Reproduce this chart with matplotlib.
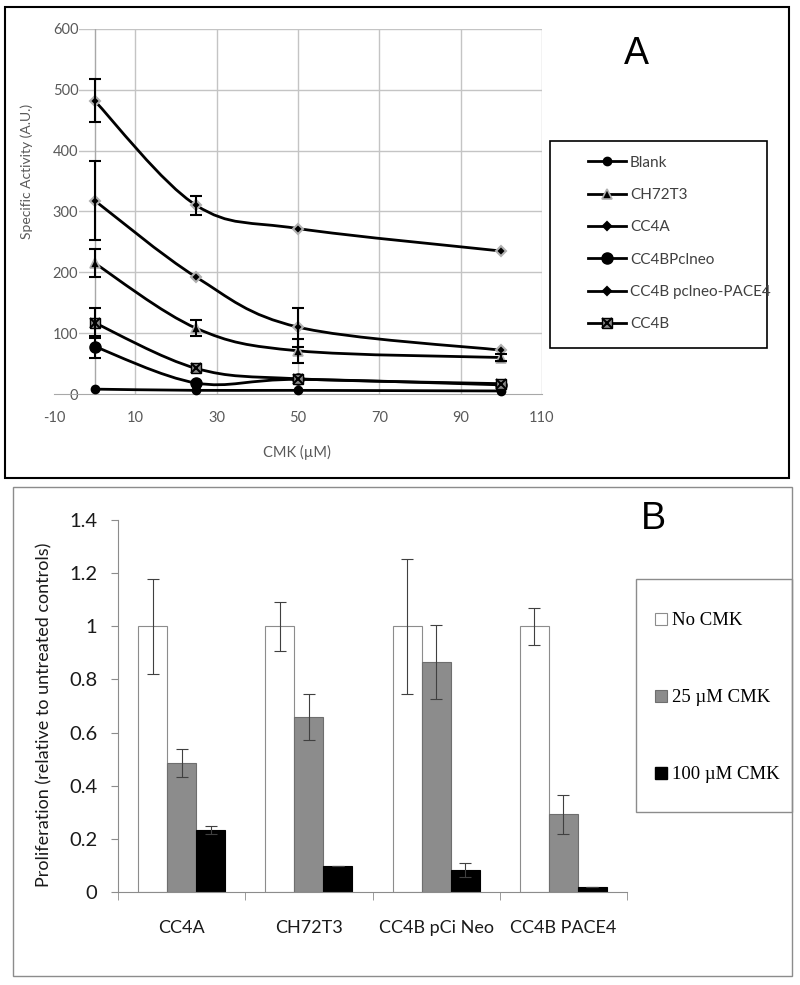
import numpy as np
import matplotlib.pyplot as plt
from matplotlib.path import Path
from matplotlib.patches import PathPatch, Rectangle, Patch
from matplotlib.lines import Line2D
from matplotlib.legend_handler import HandlerTuple

plt.rcParams['axes.unicode_minus'] = False

# ---- panel A data ----
cmk = [0, 25, 50, 100]
blank = [8, 6, 6, 5]
ch72t3 = [215, 108, 71, 60]
cc4a = [318, 192, 110, 72]
cc4b_pcineo = [78, 18, 24, 15]
cc4b_pace4 = [482, 310, 272, 235]
cc4b = [117, 42, 25, 17]

err_blank = [0, 0, 0, 0]
err_ch72t3 = [23, 13, 20, 5]
err_cc4a = [65, 0, 32, 0]
err_cc4b_pcineo = [18, 0, 0, 0]
err_cc4b_pace4 = [35, 16, 0, 0]
err_cc4b = [25, 0, 0, 0]

# ---- panel B data ----
lines_b = ['CC4A', 'CH72T3', 'CC4B pCi Neo', 'CC4B PACE4']
no_cmk = [1.0, 1.0, 1.0, 1.0]
cmk25 = [0.487, 0.66, 0.866, 0.293]
cmk100 = [0.233, 0.098, 0.082, 0.02]
err_no = [0.178, 0.092, 0.254, 0.07]
err_25 = [0.053, 0.087, 0.139, 0.073]
err_100 = [0.015, 0, 0.026, 0]
yticks_b = [0, 0.2, 0.4, 0.6, 0.8, 1.0, 1.2, 1.4]
ylabels_b = ['0', '0.2', '0.4', '0.6', '0.8', '1', '1.2', '1.4']


def smooth_path(x, y):  # excel style smoothed line (bezier)
    p = np.column_stack([x, y]).astype(float)
    n = len(p)
    verts = [p[0]]
    codes = [Path.MOVETO]
    for i in range(n - 1):
        p0 = p[max(i - 1, 0)]
        p1 = p[i]
        p2 = p[i + 1]
        p3 = p[min(i + 2, n - 1)]
        verts += [p1 + (p2 - p0) / 6, p2 - (p3 - p1) / 6, p2]
        codes += [Path.CURVE4] * 3
    return Path(verts, codes)


W, H = 800, 985
fig = plt.figure(figsize=(8, 9.85), dpi=100)
grey = '#595959'

# ================= panel A =================
ax = fig.add_axes([54 / W, 1 - 394 / H, 488 / W, 365 / H])
ax.set_xlim(-10, 110)
ax.set_ylim(0, 600)
for s in ['top', 'right', 'left']:
    ax.spines[s].set_visible(False)
ax.spines['bottom'].set_color('#a8a8a8')
ax.set_xticks(np.arange(-10, 111, 20))
ax.set_yticks(np.arange(0, 601, 100))
for v in np.arange(10, 111, 20):
    ax.axvline(v, color='#c4c4c4', lw=1, zorder=0)
for v in np.arange(100, 601, 100):
    ax.axhline(v, color='#c4c4c4', lw=1, zorder=0)
ax.axvline(0, color='#a8a8a8', lw=1, zorder=1)
ax.tick_params(axis='x', length=0, pad=12, labelsize=10.5, labelcolor=grey)
ax.tick_params(axis='y', length=0, pad=-17.5, labelsize=10.5, labelcolor=grey)
for lab in ax.get_xticklabels() + ax.get_yticklabels():
    lab.set_family('Lato')
for lab in ax.get_yticklabels():
    lab.set_bbox(dict(facecolor='white', edgecolor='none', pad=0.5))
    lab.set_zorder(2)
ax.set_xlabel('CMK (µM)', family='Lato', fontsize=10.5, color=grey)
ax.xaxis.set_label_coords(0.498, -0.14)
ax.set_ylabel('Specific Activity (A.U.)', family='Lato', fontsize=10, color=grey)
ax.yaxis.set_label_coords(-0.043, 0.611)

series = [
    ('Blank', blank, err_blank, dict(marker='o', ms=6, mfc='black', mec='black')),
    ('CH72T3', ch72t3, err_ch72t3, dict(marker='^', ms=6.5, mfc='black', mec='#b0b0b0', mew=1.2)),
    ('CC4A', cc4a, err_cc4a, dict(marker='D', ms=5.5, mfc='black', mec='#b0b0b0', mew=1.5)),
    ('CC4BPclneo', cc4b_pcineo, err_cc4b_pcineo, dict(marker='o', ms=8, mfc='black', mec='black')),
    ('CC4B pclneo-PACE4', cc4b_pace4, err_cc4b_pace4, dict(marker='D', ms=5.5, mfc='black', mec='#b0b0b0', mew=1.5)),
]
handles = []
for name, vals, err, mk in series:
    ax.add_patch(PathPatch(smooth_path(cmk, vals), fc='none', ec='black', lw=2, zorder=3))
    ax.plot(cmk, vals, ls='none', zorder=4, clip_on=False, **mk)
    e = np.array(err)
    m = e > 0
    if m.any():
        ax.errorbar(np.array(cmk)[m], np.array(vals)[m], yerr=e[m], fmt='none',
                    ecolor='black', elinewidth=1.5, capsize=4, capthick=1.5, zorder=5)
    h_mk = dict(mk)
    if h_mk['marker'] == 'D':
        h_mk['ms'] = 4
        h_mk['mec'] = 'black'
    handles.append(Line2D([], [], color='black', lw=2, **h_mk))

# CC4B: square with cross
ax.add_patch(PathPatch(smooth_path(cmk, cc4b), fc='none', ec='black', lw=2, zorder=3))
ax.plot(cmk, cc4b, ls='none', marker='s', ms=7, mfc='#8a8a8a', mec='black', zorder=4, clip_on=False)
ax.plot(cmk, cc4b, ls='none', marker='x', ms=7, mec='black', mew=1.5, zorder=4, clip_on=False)
ax.errorbar(cmk[:1], cc4b[:1], yerr=err_cc4b[:1], fmt='none', ecolor='black',
            elinewidth=1.5, capsize=4, capthick=1.5, zorder=5)
h1 = Line2D([], [], color='black', lw=2, marker='s', ms=7, mfc='#8a8a8a', mec='black')
h2 = Line2D([], [], ls='none', marker='x', ms=7, mec='black', mew=1.5)
handles.append((h1, h2))
labels = [s[0] for s in series] + ['CC4B']

leg = fig.legend(handles, labels, loc='upper left', bbox_to_anchor=(580 / W, 1 - 148 / H),
                 frameon=False, borderpad=0, handlelength=2.5, handletextpad=0.26,
                 labelspacing=1.2, prop={'family': 'Lato', 'size': 11},
                 handler_map={tuple: HandlerTuple(ndivide=1)})
for t in leg.get_texts():
    t.set_color('#404040')

fig.add_artist(Rectangle((550 / W, 1 - 348 / H), 217 / W, 207 / H, transform=fig.transFigure,
                         fill=False, ec='black', lw=1.2))
fig.add_artist(Rectangle((5 / W, 1 - 478 / H), 784 / W, 471 / H, transform=fig.transFigure,
                         fill=False, ec='black', lw=1.5))
fig.text(636 / W, 1 - 54 / H, 'A', ha='center', va='center', fontsize=27, family='Liberation Sans')

# ================= panel B =================
bx = fig.add_axes([118 / W, 1 - 892 / H, 509 / W, 372 / H])
x = np.arange(len(lines_b))
w = 0.228
ekw = dict(ecolor='#404040', elinewidth=0.8, capsize=4, capthick=0.8)
bx.bar(x - w, no_cmk, w, color='white', edgecolor='#8c8c8c', lw=0.8, yerr=err_no, error_kw=ekw)
bx.bar(x, cmk25, w, color='#8c8c8c', edgecolor='#6e6e6e', lw=0.8, yerr=err_25, error_kw=ekw)
bx.bar(x + w, cmk100, w, color='black', edgecolor='black', lw=0.8, yerr=err_100, error_kw=ekw)
bx.set_xlim(-0.5, len(lines_b) - 0.5)
bx.set_ylim(0, 1.4)
for s in ['top', 'right']:
    bx.spines[s].set_visible(False)
bx.spines['left'].set_color('#8c8c8c')
bx.spines['bottom'].set_color('#8c8c8c')
bx.set_yticks(yticks_b)
bx.set_yticklabels(ylabels_b, family='Lato', fontsize=14.5, color='#1a1a1a')
bx.set_xticks(x)
bx.set_xticklabels(lines_b, family='Lato', fontsize=13, color='#1a1a1a')
bx.set_xticks(np.arange(-0.5, len(lines_b), 1), minor=True)
bx.tick_params(axis='x', which='major', length=0, pad=20)
bx.tick_params(axis='x', which='minor', length=6, color='#8c8c8c')
bx.tick_params(axis='y', length=5, color='#8c8c8c', pad=10)
bx.set_ylabel('Proliferation (relative to untreated controls)', family='Lato', fontsize=13,
              color='#1a1a1a')
bx.yaxis.set_label_coords(-0.128, 0.476)

leg_b = [Patch(fc='white', ec='#8c8c8c', lw=0.8), Patch(fc='#8c8c8c', ec='#6e6e6e', lw=0.8),
         Patch(fc='black', ec='black')]
fig.legend(leg_b, ['No CMK', '25 µM CMK', '100 µM CMK'], loc='upper left',
           bbox_to_anchor=(646 / W, 1 - 603 / H), frameon=False, borderpad=0,
           handlelength=0.6, handleheight=0.6, handletextpad=0.3, labelspacing=3.2,
           prop={'family': 'Liberation Serif', 'size': 13.5})
fig.add_artist(Rectangle((636 / W, 1 - 812 / H), 156 / W, 233 / H, transform=fig.transFigure,
                         fill=False, ec='#8c8c8c', lw=1))
fig.add_artist(Rectangle((13 / W, 1 - 976 / H), 779 / W, 489 / H, transform=fig.transFigure,
                         fill=False, ec='#8c8c8c', lw=1))
fig.text(653 / W, 1 - 519 / H, 'B', ha='center', va='center', fontsize=27, family='Liberation Sans')

fig.savefig('out.png', dpi=100)
